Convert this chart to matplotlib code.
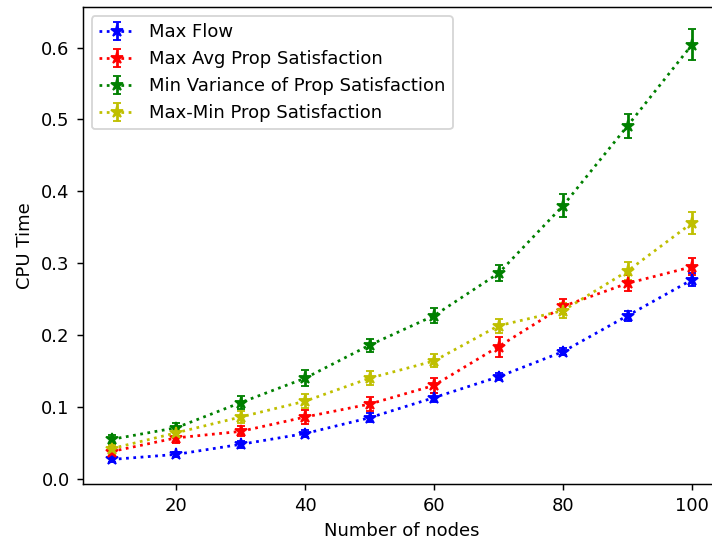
import matplotlib
matplotlib.use("Agg")
import matplotlib.pyplot as plt

nodes = [10, 20, 30, 40, 50, 60, 70, 80, 90, 100]

max_flow = [0.027, 0.034, 0.048, 0.063, 0.085, 0.113, 0.142, 0.177, 0.227, 0.277]
max_flow_err = [0.004, 0.004, 0.005, 0.005, 0.006, 0.006, 0.005, 0.005, 0.007, 0.009]

max_avg = [0.038, 0.057, 0.066, 0.086, 0.104, 0.130, 0.184, 0.240, 0.272, 0.295]
max_avg_err = [0.006, 0.007, 0.007, 0.010, 0.010, 0.010, 0.014, 0.010, 0.011, 0.012]

min_var = [0.055, 0.071, 0.106, 0.140, 0.186, 0.227, 0.286, 0.380, 0.491, 0.604]
min_var_err = [0.006, 0.007, 0.009, 0.011, 0.009, 0.010, 0.011, 0.016, 0.017, 0.022]

max_min = [0.042, 0.064, 0.086, 0.108, 0.140, 0.164, 0.213, 0.234, 0.289, 0.356]
max_min_err = [0.005, 0.006, 0.008, 0.010, 0.010, 0.009, 0.010, 0.010, 0.012, 0.015]

labels = ["Max Flow", "Max Avg Prop Satisfaction",
          "Min Variance of Prop Satisfaction", "Max-Min Prop Satisfaction"]

DPI = 132
plt.rcParams["font.size"] = 9.8
fig = plt.figure(figsize=(712 / DPI, 540 / DPI), dpi=DPI)
ax = fig.add_axes([0.1159, 0.1037, 0.8968, 0.883])

series = [(max_flow, max_flow_err, "b"), (max_avg, max_avg_err, "r"),
          (min_var, min_var_err, "g"), (max_min, max_min_err, "y")]
for (vals, err, c), lab in zip(series, labels):
    ax.errorbar(nodes, vals, yerr=err, fmt="*:", color=c, capsize=2.4,
                markersize=6.5, linewidth=1.5, label=lab)

ax.set_xlabel("Number of nodes")
ax.set_ylabel("CPU Time")
ax.legend(loc="upper left")

fig.savefig("out.png", dpi=DPI)
